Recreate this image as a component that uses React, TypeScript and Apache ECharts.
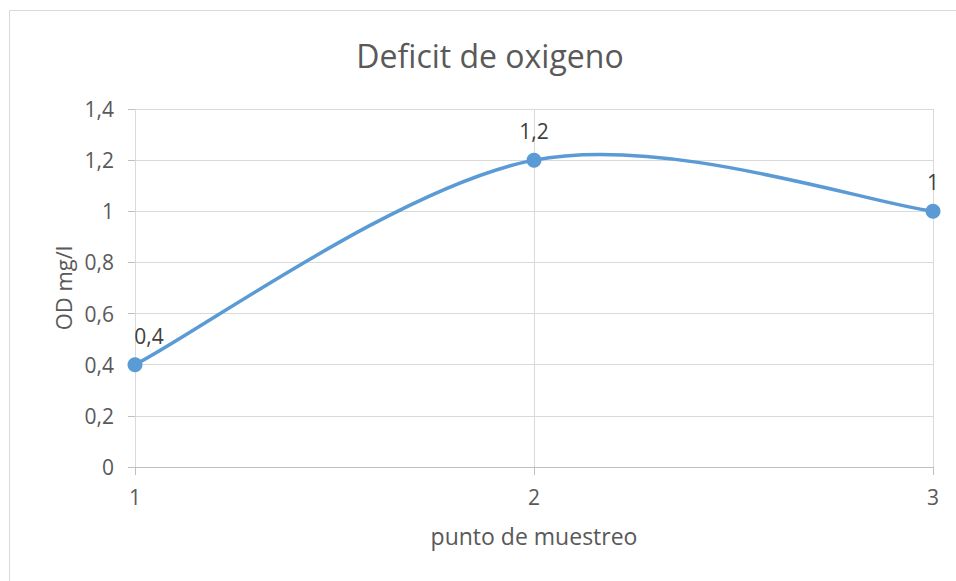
import React, { useEffect, useRef } from "react";
import * as echarts from "echarts";

const xValues = [1, 2, 3];
const yValues = [0.4, 1.2, 1.0];
const titleText = "Deficit de oxigeno";
const xAxisName = "punto de muestreo";
const yAxisName = "OD mg/l";

const fmt = (v: number) => String(+v.toFixed(1)).replace(".", ",");

export default function App() {
  const ref = useRef<HTMLDivElement>(null);
  useEffect(() => {
    if (!ref.current) return;
    const chart = echarts.init(ref.current, null, { renderer: "svg" });
    const font = "'Open Sans', 'Noto Sans', sans-serif";
    const blue = "#5b9bd5";
    chart.setOption({
      animation: false,
      backgroundColor: "#ffffff",
      textStyle: { fontFamily: font },
      title: {
        text: titleText,
        left: 485,
        top: 34,
        textAlign: "center",
        textStyle: { fontFamily: font, fontSize: 32, fontWeight: "normal", color: "#595959" },
      },
      graphic: [
        {
          type: "rect",
          shape: { x: 9.5, y: 10.5, width: 1000, height: 1000 },
          style: { fill: "none", stroke: "#d9d9d9", lineWidth: 1 },
          silent: true,
        },
      ],
      grid: { left: 135, right: 23, top: 109, bottom: 114 },
      xAxis: {
        type: "value",
        min: 1,
        max: 3,
        interval: 1,
        name: xAxisName,
        nameLocation: "middle",
        nameGap: 57,
        nameTextStyle: { fontFamily: font, fontSize: 23, color: "#595959", verticalAlign: "top" },
        axisLine: { show: true, lineStyle: { color: "#bfbfbf", width: 1 } },
        axisTick: { show: true, length: 8, lineStyle: { color: "#bfbfbf" } },
        axisLabel: { fontFamily: font, fontSize: 21, color: "#595959", margin: 19, formatter: fmt },
        splitLine: { show: true, lineStyle: { color: "#d9d9d9", width: 1 } },
      },
      yAxis: {
        type: "value",
        min: 0,
        max: 1.4,
        interval: 0.2,
        name: yAxisName,
        nameLocation: "middle",
        nameGap: 59,
        nameRotate: 90,
        nameTextStyle: { fontFamily: font, fontSize: 22, color: "#595959" },
        axisLine: { show: false },
        axisTick: { show: true, length: 7, lineStyle: { color: "#bfbfbf" } },
        axisLabel: { fontFamily: font, fontSize: 21, color: "#595959", margin: 21, formatter: fmt },
        splitLine: { show: true, lineStyle: { color: "#d9d9d9", width: 1 } },
      },
      series: [
        {
          type: "custom",
          coordinateSystem: "cartesian2d",
          data: [[xValues[0], yValues[0]]],
          silent: true,
          z: 2,
          renderItem: (params: any, api: any) => {
            const pts = xValues.map((x, i) => api.coord([x, yValues[i]]));
            const n = pts.length;
            let d = `M${pts[0][0]},${pts[0][1]}`;
            for (let i = 0; i < n - 1; i++) {
              const p0 = pts[Math.max(i - 1, 0)];
              const p1 = pts[i];
              const p2 = pts[i + 1];
              const p3 = pts[Math.min(i + 2, n - 1)];
              const c1x = p1[0] + (p2[0] - p0[0]) / 6;
              const c1y = p1[1] + (p2[1] - p0[1]) / 6;
              const c2x = p2[0] - (p3[0] - p1[0]) / 6;
              const c2y = p2[1] - (p3[1] - p1[1]) / 6;
              d += ` C${c1x},${c1y} ${c2x},${c2y} ${p2[0]},${p2[1]}`;
            }
            return {
              type: "path",
              shape: { pathData: d },
              style: { fill: "none", stroke: blue, lineWidth: 3.5, lineCap: "round", lineJoin: "round" },
            };
          },
        },
        {
          type: "scatter",
          z: 3,
          data: xValues.map((x, i) => {
            const item: any = { value: [x, yValues[i]] };
            if (i === 0) item.label = { offset: [14, 0] };
            return item;
          }),
          symbol: "circle",
          symbolSize: 15,
          itemStyle: { color: blue, opacity: 1 },
          label: {
            show: true,
            position: "top",
            distance: 11,
            fontFamily: font,
            fontSize: 21,
            color: "#404040",
            formatter: (p: any) => fmt(p.value[1]),
          },
        },
      ],
    });
    return () => chart.dispose();
  }, []);
  return (
    <div
      ref={ref}
      style={{ position: "absolute", left: 0, top: 0, width: 956, height: 581 }}
    />
  );
}
